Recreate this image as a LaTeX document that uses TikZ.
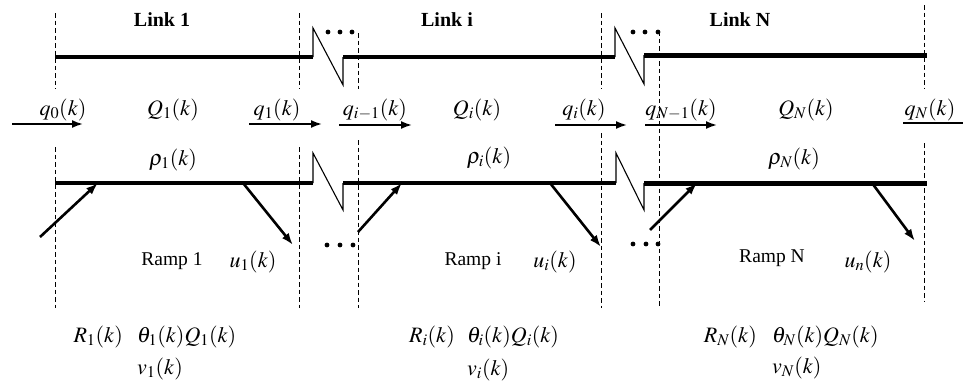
\documentclass[tikz,border=0pt]{standalone}
\usepackage{mathptmx}
\usepackage{fontspec}
\setmainfont{Liberation Serif}
\usetikzlibrary{arrows.meta}

\begin{document}
\begin{tikzpicture}[x=1pt,y=-1pt,
  guide/.style={line width=0.9pt, dash pattern=on 4.5pt off 3pt},
  roadA/.style={line width=3.2pt},
  roadB/.style={line width=3.2pt},
  roadC/.style={line width=5pt},
  zig/.style={line width=1.1pt, line join=miter},
  flow/.style={line width=1.8pt, -{Latex[length=11pt,width=8pt]}},
  ramp/.style={line width=2.6pt, -{Latex[length=12pt,width=8.5pt]}},
  dotn/.style={circle, fill=black, inner sep=0pt, minimum size=4.8pt},
  lab/.style={font=\fontsize{22}{26}\selectfont, inner sep=0pt, anchor=base},
  txt/.style={font=\fontsize{19.5}{23}\selectfont, inner sep=0pt, anchor=base},
  head/.style={font=\bfseries\fontsize{20}{24}\selectfont, inner sep=0pt, anchor=base}]

\useasboundingbox (0,0) rectangle (963,388);

% ---- link boundaries (dashed)
\foreach \n/\x/\a/\b/\c/\d in {g1/55/13/89/147/308, g2/299/13/89/147/308,
    g3/358/33/89/140/308, g4/601/13/89/133/308, g6/924/5/88/143/301}{
  \coordinate (\n a) at (\x,\a); \coordinate (\n b) at (\x,\b);
  \coordinate (\n c) at (\x,\c); \coordinate (\n d) at (\x,\d);
  \draw[guide] (\n a) -- (\n b);
  \draw[guide] (\n c) -- (\n d);
}
\coordinate (g5a) at (659,31); \coordinate (g5d) at (659,308);
\draw[guide] (g5a) -- (g5d);

% ---- upper road edge
\coordinate (ta1) at (55,57);  \coordinate (tb1) at (313,57);
\coordinate (ta2) at (343,57); \coordinate (tb2) at (615,57);
\coordinate (ta3) at (644,55); \coordinate (tb3) at (927,55);
\draw[roadA] (ta1) -- (tb1);
\draw[zig] (tb1) -- ++(0,-29) -- (343,85) -- (ta2);
\draw[roadB] (ta2) -- (tb2);
\draw[zig] (tb2) -- ++(0,-29) -- (644,84) -- (ta3);
\draw[roadC] (ta3) -- (tb3);

% ---- lower road edge
\coordinate (ba1) at (55,183);  \coordinate (bb1) at (313,183);
\coordinate (ba2) at (343,183); \coordinate (bb2) at (616,183);
\coordinate (ba3) at (644,183); \coordinate (bb3) at (927,183);
\draw[roadA] (ba1) -- (bb1);
\draw[zig] (bb1) -- ++(0,-30) -- (343,210) -- (ba2);
\draw[roadB] (ba2) -- (bb2);
\draw[zig] (bb2) -- ++(0,-30) -- (644,210) -- (ba3);
\draw[roadC] (ba3) -- (bb3);

% ---- ellipsis dots
\foreach \n/\x/\y in {p1/328/32, p2/340/32, p3/352/32,
                      p4/633/32, p5/645/32, p6/658/32,
                      p7/327/245, p8/340/245, p9/353/245,
                      p10/633/244, p11/646/244, p12/658/244}{
  \node[dotn] (\n) at (\x,\y) {};
}

% ---- link titles
\node[head] (l1) at (162,26) {Link 1};
\node[head] (li) at (447,26) {Link i};
\node[head] (lN) at (740,27) {Link N};

% ---- flows between links
\node[lab] (q0) at (63,115)  {$q_0(k)$};
\node[lab] (Q1) at (173,115) {$Q_1(k)$};
\node[lab] (q1) at (277,115) {$q_1(k)$};
\node[lab] (qim) at (375,115) {$q_{i-1}(k)$};
\node[lab] (Qi) at (477,115) {$Q_i(k)$};
\node[lab] (qi) at (584,115) {$q_i(k)$};
\node[lab] (qNm) at (681,115) {$q_{N-1}(k)$};
\node[lab] (QN) at (806,115) {$Q_N(k)$};
\node[lab] (qN) at (930,115) {$q_N(k)$};

\foreach \n/\xa/\xb/\y in {f0/12/83/124, f1/249/322/124, f2/339/412/125,
                           f3/555/627/125, f4/645/717/125, f5/903/980/123}{
  \coordinate (\n s) at (\xa,\y); \coordinate (\n e) at (\xb,\y);
  \draw[flow] (\n s) -- (\n e);
}

% ---- densities
\node[lab] (r1) at (173,165) {$\rho_1(k)$};
\node[lab] (ri) at (489,163) {$\rho_i(k)$};
\node[lab] (rN) at (794,164) {$\rho_N(k)$};

% ---- on- and off-ramps
\foreach \n/\xa/\ya/\xb/\yb in {a1/40/237/98/183, o1/243/183/293/245,
                                ai/358/232/402/183, oi/550/183/601/247,
                                aN/650/230/697/183, oN/872/183/915/241}{
  \coordinate (\n s) at (\xa,\ya); \coordinate (\n e) at (\xb,\yb);
  \draw[ramp] (\n s) -- (\n e);
}

\node[txt] (m1) at (172,265) {Ramp 1};
\node[lab] (u1) at (253,267) {$u_1(k)$};
\node[txt] (mi) at (473,265) {Ramp i};
\node[lab] (ui) at (555,267) {$u_i(k)$};
\node[txt] (mN) at (772,262) {Ramp N};
\node[lab] (un) at (868,267) {$u_n(k)$};

% ---- ramp states
\node[lab, anchor=base east] (R1) at (123,342) {$R_1(k)$};
\node[lab, anchor=base west] (t1) at (137,342) {$\theta_1(k)Q_1(k)$};
\node[lab, anchor=base west] (v1) at ([yshift=-32pt]t1.base west) {$v_1(k)$};

\node[lab, anchor=base east] (Ri) at (455,342) {$R_i(k)$};
\node[lab, anchor=base west] (ti) at (467,342) {$\theta_i(k)Q_i(k)$};
\node[lab, anchor=base west] (vi) at ([yshift=-33pt]ti.base west) {$v_i(k)$};

\node[lab, anchor=base east] (RN) at (757,342) {$R_N(k)$};
\node[lab, anchor=base west] (tN) at (772,342) {$\theta_N(k)Q_N(k)$};
\node[lab, anchor=base west] (vN) at ([yshift=-31pt]tN.base west) {$v_N(k)$};

\end{tikzpicture}
\end{document}
